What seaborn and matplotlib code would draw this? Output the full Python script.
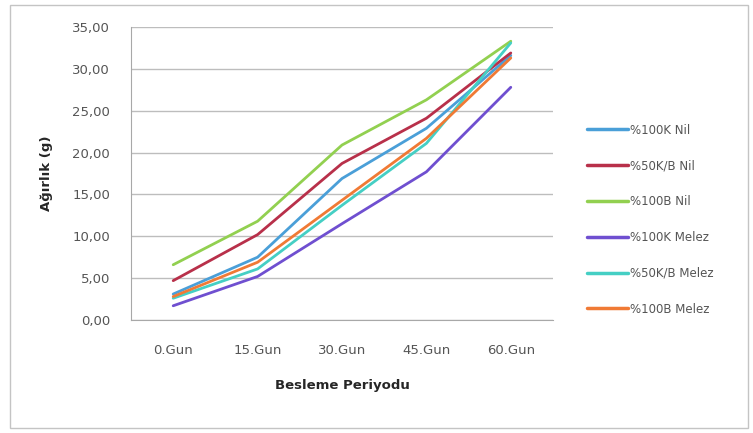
import pandas as pd
import numpy as np
import seaborn as sns
import matplotlib.pyplot as plt
from matplotlib.patches import Rectangle

# feeding periods and the weight series
days = ['0.Gun', '15.Gun', '30.Gun', '45.Gun', '60.Gun']
series_names = ['%100K Nil', '%50K/B Nil', '%100B Nil',
                '%100K Melez', '%50K/B Melez', '%100B Melez']
k100_nil = [3.1, 7.5, 16.9, 22.9, 31.6]
kb50_nil = [4.7, 10.2, 18.7, 24.1, 31.9]
b100_nil = [6.6, 11.8, 20.9, 26.3, 33.3]
k100_melez = [1.7, 5.2, 11.5, 17.7, 27.8]
kb50_melez = [2.6, 6.1, 13.7, 21.1, 33.1]
b100_melez = [2.8, 6.9, 14.3, 21.7, 31.3]
colors = ['#4a9fd8', '#b8304a', '#92d050', '#6f4fd0', '#45cfc4', '#f07a35']

values = [k100_nil, kb50_nil, b100_nil, k100_melez, kb50_melez, b100_melez]
rows = []
for name, vals in zip(series_names, values):
    for i, v in enumerate(vals):
        rows.append({'gun': i, 'agirlik': v, 'grup': name})
df = pd.DataFrame(rows)

sns.set_style('white')
plt.rcParams['font.family'] = ['DejaVu Sans']

fig = plt.figure(figsize=(7.53, 4.33), dpi=100)
ax = fig.add_axes([131/753, 1-320/433, (553-131)/753, (320-27)/433])

sns.lineplot(ax=ax, data=df, x='gun', y='agirlik', hue='grup',
             hue_order=series_names, palette=colors, linewidth=2, legend=False)

ax.set_xlim(-0.5, 4.5)
ax.set_ylim(0, 35)
ax.set_yticks(np.arange(0, 36, 5))
ax.set_yticklabels([f'{t:.2f}'.replace('.', ',') for t in np.arange(0, 36, 5)])
ax.set_xticks(range(5))
ax.set_xticklabels(days)
ax.grid(axis='y', color='#bdbdbd', linewidth=1)
ax.set_axisbelow(True)
for s in ['top', 'right']:
    ax.spines[s].set_visible(False)
for s in ['left', 'bottom']:
    ax.spines[s].set_color('#a8a8a8')
ax.tick_params(axis='y', length=5, color='#a8a8a8', labelsize=9.5, labelcolor='#555555', pad=10)
ax.tick_params(axis='x', length=0, labelsize=9.5, labelcolor='#555555', pad=17)
ax.set_xlabel('Besleme Periyodu', fontsize=9.5, fontweight='bold', labelpad=16)
ax.set_ylabel('Ağırlık (g)', fontsize=9.5, fontweight='bold', labelpad=14)

handles = [plt.Line2D([], [], color=c, linewidth=2.5) for c in colors]
fig.legend(handles, series_names, loc='upper left', bbox_to_anchor=(576/753, 1-113/433),
           frameon=False, fontsize=8.5, handlelength=3.5, handletextpad=0.2,
           labelspacing=1.93, labelcolor='#555555')

fig.patches.append(Rectangle((10/753, 1-428/433), 738/753, 423/433,
                             transform=fig.transFigure, fill=False,
                             edgecolor='#c4c4c4', linewidth=1))

fig.savefig('out.png', dpi=100)
